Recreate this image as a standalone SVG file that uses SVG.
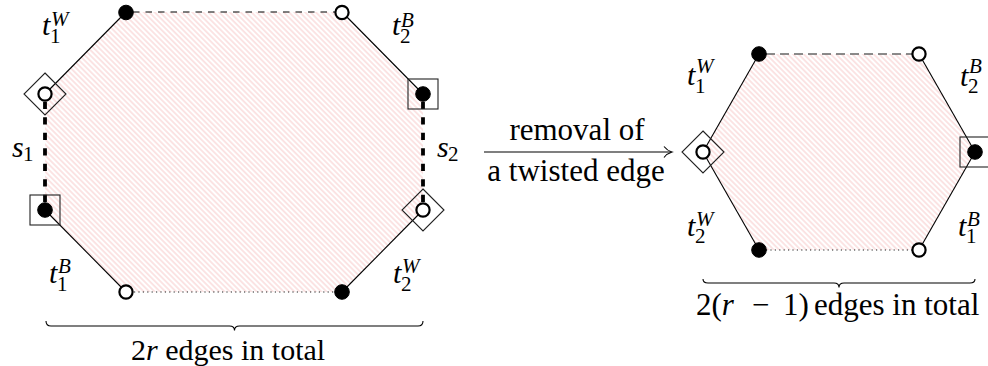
<svg xmlns="http://www.w3.org/2000/svg" width="988" height="366" viewBox="0 0 988 366">
<defs>
<pattern id="hatch" patternUnits="userSpaceOnUse" width="3.8" height="3.8" patternTransform="rotate(45)">
<line x1="-1" y1="1.9" x2="5" y2="1.9" stroke="#f7c4c4" stroke-width="0.9"/>
</pattern>
<circle id="bdot" r="7.3" fill="#000" stroke="#000" stroke-width="1"/>
<circle id="wdot" r="6.6" fill="#fff" stroke="#000" stroke-width="2.2"/>
<rect id="box" x="-15" y="-15" width="30" height="30" fill="none" stroke="#222" stroke-width="1.1"/>
<polygon id="diamond" points="0,-21 21,0 0,21 -21,0" fill="none" stroke="#222" stroke-width="1.1"/>
</defs>
<rect width="988" height="366" fill="#fff"/>

<g id="hatched-areas">
<polygon points="126,12 342,12 423,94 423,210 342,292 126,292 45,210 45,94" fill="url(#hatch)"/>
<polygon points="759,54 919,54 975,152 919,250 759,250 703,152" fill="url(#hatch)"/>
</g>

<g id="connectors" fill="none">
<g stroke="#000" stroke-width="1.1">
<line x1="45" y1="94" x2="126" y2="12"/>
<line x1="342" y1="12" x2="423" y2="94"/>
<line x1="423" y1="210" x2="342" y2="292"/>
<line x1="126" y1="292" x2="45" y2="210"/>
<line x1="703" y1="152" x2="759" y2="54"/>
<line x1="919" y1="54" x2="975" y2="152"/>
<line x1="975" y1="152" x2="919" y2="250"/>
<line x1="759" y1="250" x2="703" y2="152"/>
<line x1="484" y1="152" x2="671" y2="152"/>
<path d="M664,146.5 Q667,150.5 672,152 Q667,153.5 664,157.5"/>
</g>
<line x1="133" y1="12" x2="335" y2="12" stroke="#000" stroke-width="1.1" stroke-dasharray="6.5 6"/>
<line x1="766" y1="54" x2="912" y2="54" stroke="#666" stroke-width="1.6" stroke-dasharray="9 5"/>
<g stroke="#222" stroke-width="1.1" stroke-dasharray="1.2 3.2">
<line x1="134" y1="292" x2="335" y2="292"/>
<line x1="766" y1="250" x2="912" y2="250"/>
</g>
<g stroke="#000" stroke-width="3.8" stroke-dasharray="7.3 8.2">
<line x1="423" y1="101.7" x2="423" y2="203"/>
<line x1="45" y1="101.7" x2="45" y2="203"/>
</g>
</g>

<g id="n-L1"><use href="#bdot" x="126" y="12.5"/></g>
<g id="n-L2"><use href="#wdot" x="342" y="12.5"/></g>
<g id="n-L3"><use href="#box" x="423" y="94"/><use href="#bdot" x="423" y="94"/></g>
<g id="n-L4"><use href="#diamond" x="423" y="210"/><use href="#wdot" x="423" y="210"/></g>
<g id="n-L5"><use href="#bdot" x="342" y="292"/></g>
<g id="n-L6"><use href="#wdot" x="126" y="292"/></g>
<g id="n-L7"><use href="#box" x="45" y="210"/><use href="#bdot" x="45" y="210"/></g>
<g id="n-L8"><use href="#diamond" x="45" y="94"/><use href="#wdot" x="45" y="94"/></g>

<g id="n-R1"><use href="#bdot" x="759" y="54"/></g>
<g id="n-R2"><use href="#wdot" x="919" y="54"/></g>
<g id="n-R3"><use href="#box" x="975" y="152"/><use href="#bdot" x="975" y="152"/></g>
<g id="n-R4"><use href="#wdot" x="919" y="250"/></g>
<g id="n-R5"><use href="#bdot" x="759" y="250"/></g>
<g id="n-R6"><use href="#diamond" x="703" y="152"/><use href="#wdot" x="703" y="152"/></g>

<text x="42" y="35" font-family="Liberation Serif" font-size="30" font-style="italic">t</text>
<text x="51" y="26" font-family="Liberation Serif" font-size="21" font-style="italic">W</text>
<text x="50" y="43" font-family="Liberation Serif" font-size="21">1</text>
<text x="392" y="35" font-family="Liberation Serif" font-size="30" font-style="italic">t</text>
<text x="401" y="27" font-family="Liberation Serif" font-size="21" font-style="italic">B</text>
<text x="400" y="43" font-family="Liberation Serif" font-size="21">2</text>
<text x="49" y="283" font-family="Liberation Serif" font-size="30" font-style="italic">t</text>
<text x="58" y="273" font-family="Liberation Serif" font-size="21" font-style="italic">B</text>
<text x="57" y="291" font-family="Liberation Serif" font-size="21">1</text>
<text x="393" y="283" font-family="Liberation Serif" font-size="30" font-style="italic">t</text>
<text x="402" y="273" font-family="Liberation Serif" font-size="21" font-style="italic">W</text>
<text x="401" y="291" font-family="Liberation Serif" font-size="21">2</text>
<text x="12" y="157" font-family="Liberation Serif" font-size="30" font-style="italic">s</text>
<text x="23" y="161" font-family="Liberation Serif" font-size="21">1</text>
<text x="437" y="157" font-family="Liberation Serif" font-size="30" font-style="italic">s</text>
<text x="448" y="161" font-family="Liberation Serif" font-size="21">2</text>

<text x="687" y="85" font-family="Liberation Serif" font-size="30" font-style="italic">t</text>
<text x="696" y="73" font-family="Liberation Serif" font-size="21" font-style="italic">W</text>
<text x="695" y="93" font-family="Liberation Serif" font-size="21">1</text>
<text x="960" y="86" font-family="Liberation Serif" font-size="30" font-style="italic">t</text>
<text x="969" y="73" font-family="Liberation Serif" font-size="21" font-style="italic">B</text>
<text x="968" y="93" font-family="Liberation Serif" font-size="21">2</text>
<text x="687" y="236" font-family="Liberation Serif" font-size="30" font-style="italic">t</text>
<text x="696" y="226" font-family="Liberation Serif" font-size="21" font-style="italic">W</text>
<text x="695" y="243" font-family="Liberation Serif" font-size="21">2</text>
<text x="958" y="236" font-family="Liberation Serif" font-size="30" font-style="italic">t</text>
<text x="967" y="226" font-family="Liberation Serif" font-size="21" font-style="italic">B</text>
<text x="966" y="243" font-family="Liberation Serif" font-size="21">1</text>

<text x="577" y="140" font-family="Liberation Serif" font-size="31" text-anchor="middle">removal of</text>
<text x="576" y="181" font-family="Liberation Serif" font-size="31" text-anchor="middle">a twisted edge</text>

<text x="131" y="360" font-family="Liberation Serif" font-size="30">2<tspan font-style="italic">r</tspan> edges in total</text>
<text x="696" y="315" font-family="Liberation Serif" font-size="31">2(<tspan font-style="italic">r</tspan><tspan x="752">&#x2212;</tspan><tspan x="783">1)</tspan><tspan x="814">edges in total</tspan></text>

<g id="braces" fill="none" stroke="#000" stroke-width="1.1">
<path d="M46,321 Q46,326 51,326 L229.5,326 Q234.5,326 234.5,330.5 Q234.5,326 239.5,326 L418,326 Q423,326 423,321"/>
<path d="M703,279 Q703,283 708,283 L834,283 Q839,283 839,287.5 Q839,283 844,283 L970,283 Q975,283 975,279"/>
</g>
</svg>
